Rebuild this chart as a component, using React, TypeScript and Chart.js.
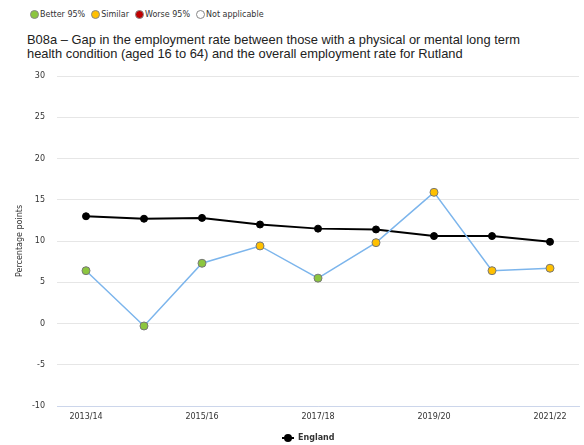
import React, { useEffect, useRef } from "react";
import { Chart, registerables } from "chart.js";

Chart.register(...registerables);

const categories = ["2013/14", "2014/15", "2015/16", "2016/17", "2017/18", "2018/19", "2019/20", "2020/21", "2021/22"];
const englandValues = [13.0, 12.7, 12.8, 12.0, 11.5, 11.4, 10.6, 10.6, 9.9];
const rutlandValues = [6.4, -0.3, 7.3, 9.4, 5.5, 9.8, 15.9, 6.4, 6.7];
const rutlandSignificance = ["better", "better", "better", "similar", "better", "similar", "similar", "similar", "similar"];
const yMin = -10;
const yMax = 30;
const yStep = 5;

const sigColors: Record<string, string> = {
  better: "#8cc63f",
  similar: "#ffc000",
  worse: "#c00000",
  na: "#ffffff",
};

const legendItems = [
  { label: "Better 95%", key: "better" },
  { label: "Similar", key: "similar" },
  { label: "Worse 95%", key: "worse" },
  { label: "Not applicable", key: "na" },
];

const FONT = "'DejaVu Sans', sans-serif";

export default function App() {
  const canvasRef = useRef<HTMLCanvasElement | null>(null);

  useEffect(() => {
    if (!canvasRef.current) return;
    const chart = new Chart(canvasRef.current, {
      type: "line",
      data: {
        labels: categories,
        datasets: [
          {
            label: "Rutland",
            data: rutlandValues,
            borderColor: "#7cb5ec",
            borderWidth: 1.5,
            pointBackgroundColor: rutlandSignificance.map((s) => sigColors[s]),
            pointBorderColor: "#777777",
            pointBorderWidth: 1,
            pointRadius: 4,
            tension: 0,
          },
          {
            label: "England",
            data: englandValues,
            borderColor: "#000000",
            borderWidth: 2,
            pointBackgroundColor: "#000000",
            pointBorderColor: "#000000",
            pointBorderWidth: 1,
            pointRadius: 3.5,
            tension: 0,
          },
        ],
      },
      options: {
        animation: false,
        responsive: false,
        maintainAspectRatio: false,
        layout: { padding: { top: 76, bottom: 19, left: 0, right: 0 } },
        plugins: {
          legend: { display: false },
          title: { display: false },
          tooltip: { enabled: false },
        },
        scales: {
          x: {
            type: "category",
            offset: true,
            grid: { display: false, drawTicks: false },
            border: { display: true, color: "#ccd6eb", width: 1 },
            ticks: {
              color: "#333333",
              font: { family: FONT, size: 8 },
              padding: 6,
              autoSkip: false,
              maxRotation: 0,
              callback: (_v: any, i: number) => (i % 2 === 0 ? categories[i] : ""),
            },
            afterFit: (s: any) => {
              s.height = 20;
            },
          },
          y: {
            min: yMin,
            max: yMax,
            ticks: {
              stepSize: yStep,
              color: "#333333",
              font: { family: FONT, size: 8 },
              padding: 12,
            },
            grid: { color: "#e6e6e6", drawTicks: false, lineWidth: 1 },
            border: { display: false },
            title: {
              display: true,
              text: "Percentage points",
              color: "#333333",
              font: { family: FONT, size: 8 },
              padding: { top: 15, bottom: 0 },
            },
            afterFit: (s: any) => {
              s.width = 57;
            },
          },
        },
      },
    });
    return () => chart.destroy();
  }, []);

  return (
    <div style={{ position: "absolute", left: 0, top: 0, width: 584, height: 445, background: "#fff", overflow: "hidden" }}>
      <div
        style={{
          position: "absolute",
          left: 30,
          top: 10,
          display: "flex",
          alignItems: "center",
          fontFamily: FONT,
          fontSize: 8,
          color: "#333",
          whiteSpace: "nowrap",
        }}
      >
        {legendItems.map((it) => (
          <span key={it.key} style={{ display: "flex", alignItems: "center", marginRight: 6 }}>
            <span
              style={{
                display: "inline-block",
                width: 7,
                height: 7,
                borderRadius: "50%",
                background: sigColors[it.key],
                border: "1px solid #888",
                marginRight: 1,
              }}
            />
            {it.label}
          </span>
        ))}
      </div>
      <div
        style={{
          position: "absolute",
          left: 27,
          top: 33,
          width: 557,
          fontFamily: "'Liberation Sans', sans-serif",
          fontSize: 12.9,
          lineHeight: "14px",
          color: "#222",
          whiteSpace: "nowrap",
        }}
      >
        B08a – Gap in the employment rate between those with a physical or mental long term
        <br />
        health condition (aged 16 to 64) and the overall employment rate for Rutland
      </div>
      <canvas ref={canvasRef} width={584} height={445} style={{ position: "absolute", left: 0, top: 0 }} />
      <div
        style={{
          position: "absolute",
          left: 282,
          top: 433,
          display: "flex",
          alignItems: "center",
          fontFamily: FONT,
          fontSize: 8,
          fontWeight: "bold",
          color: "#333",
        }}
      >
        <span style={{ position: "relative", display: "inline-block", width: 12, height: 8, marginRight: 4 }}>
          <span style={{ position: "absolute", left: 0, top: 3, width: 12, height: 2, background: "#000" }} />
          <span style={{ position: "absolute", left: 2, top: 0, width: 8, height: 8, borderRadius: "50%", background: "#000" }} />
        </span>
        England
      </div>
    </div>
  );
}
